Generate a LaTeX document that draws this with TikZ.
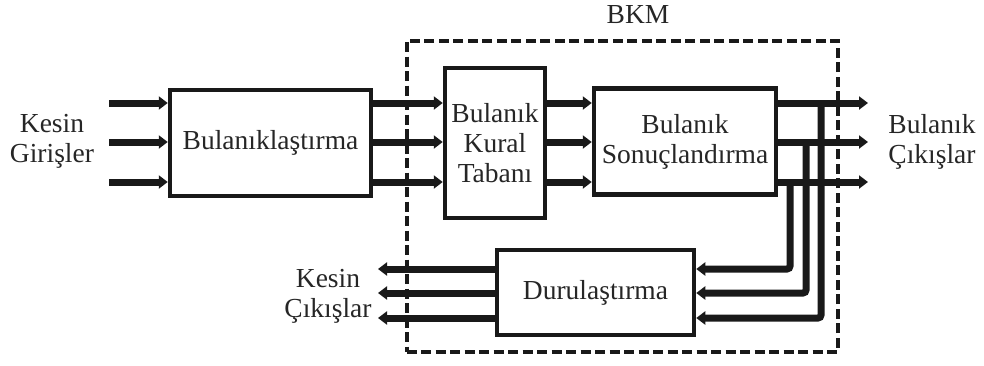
\documentclass[tikz,border=0pt]{standalone}
\usepackage{fontspec}
\setmainfont{Liberation Serif}
\usetikzlibrary{arrows.meta}

\begin{document}
\begin{tikzpicture}[x=1pt,y=-1pt,
  every node/.style={font=\fontsize{27.5}{30}\selectfont, text=black!85},
  block/.style={draw=black!90, line width=4.5pt, fill=white, inner sep=0pt, align=center},
  label/.style={align=center, inner sep=0pt},
  flow/.style={line width=7pt, draw=black!90,
    -{Triangle[length=9pt,width=13pt]}},
  fback/.style={flow, rounded corners=3pt},
  frame/.style={draw=black!90, line width=4pt, dash pattern=on 10pt off 4.5pt}
]
\useasboundingbox (0,0) rectangle (984,365);

% row levels
\coordinate (ra) at (0,103);
\coordinate (rb) at (0,142);
\coordinate (rc) at (0,182);
\coordinate (rd) at (0,269);
\coordinate (re) at (0,293);
\coordinate (rf) at (0,318);

% dashed frame of the BKM
\node[frame, minimum width=431pt, minimum height=311pt, inner sep=0pt] (bkm) at (622,196) {};
\node[label] (bkmlbl) at (638,15) {BKM};

% blocks
\node[block, minimum width=201pt, minimum height=106pt] (fz) at (270.5,143) {Bulanıklaştırma};
\node[block, minimum width=100pt, minimum height=150pt] (kt) at (495,143) {Bulanık\\Kural\\Tabanı};
\node[block, minimum width=182pt, minimum height=106pt] (sc) at (685,141.5) {Bulanık\\Sonuçlandırma};
\node[block, minimum width=197pt, minimum height=85pt] (dz) at (595.5,292.5) {Durulaştırma};

% outside labels
\node[label] (kg) at (52,141) {Kesin\\Girişler};
\node[label] (bc) at (932,142) {Bulanık\\Çıkışlar};
\node[label] (kc) at (328,296) {Kesin\\Çıkışlar};

% free ends
\coordinate (ia) at (109,103);
\coordinate (ib) at (109,142);
\coordinate (ic) at (109,182);
\coordinate (oa) at (868,103);
\coordinate (ob) at (868,142);
\coordinate (oc) at (868,182);
\coordinate (ka) at (378,269);
\coordinate (kb) at (378,293);
\coordinate (kc2) at (378,318);
\coordinate (ta) at (821,103);
\coordinate (tb) at (806,142);
\coordinate (tc) at (790,182);

% crisp inputs
\foreach \r/\s in {ra/ia, rb/ib, rc/ic}
  \draw[flow] (\s) -- (fz.west |- \r);
% fuzzifier to rule base
\foreach \r in {ra, rb, rc}
  \draw[flow] (fz.east |- \r) -- (kt.west |- \r);
% rule base to inference
\foreach \r in {ra, rb, rc}
  \draw[flow] (kt.east |- \r) -- (sc.west |- \r);
% feedback into the defuzzifier
\draw[fback] (tc) |- (dz.east |- rd);
\draw[fback] (tb) |- (dz.east |- re);
\draw[fback] (ta) |- (dz.east |- rf);
% fuzzy outputs
\foreach \r/\e in {ra/oa, rb/ob, rc/oc}
  \draw[flow] (sc.east |- \r) -- (\e);
% crisp outputs
\foreach \r/\e in {rd/ka, re/kb, rf/kc2}
  \draw[flow] (dz.west |- \r) -- (\e);
\end{tikzpicture}
\end{document}
